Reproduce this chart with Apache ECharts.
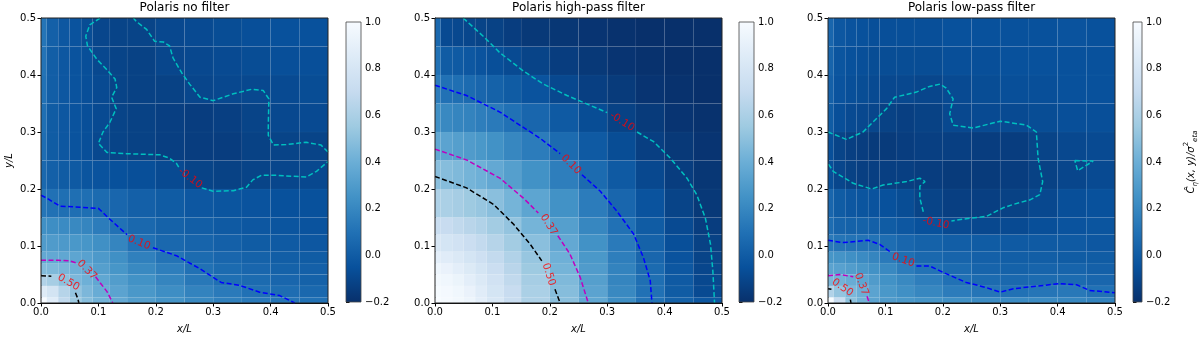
<!DOCTYPE html>
<html>
<head>
<meta charset="utf-8">
<title>Polaris correlation maps</title>
<script src="https://cdn.jsdelivr.net/npm/echarts@6/dist/echarts.min.js"></script>
<style>
  html, body { margin: 0; padding: 0; background: #fff; }
  #main { width: 1200px; height: 339px; }
</style>
</head>
<body>
<div id="main"></div>
<script>
// cell edges in x/L and y/L (same on both axes), finer near the origin
var edges = [0, 0.01, 0.03, 0.05, 0.07, 0.09, 0.12, 0.15, 0.2, 0.25, 0.3, 0.35, 0.4, 0.45, 0.5];
var axisTicks = [0, 0.1, 0.2, 0.3, 0.4, 0.5];
var barTicks = [-0.2, 0, 0.2, 0.4, 0.6, 0.8, 1.0];
var titles = ['Polaris no filter', 'Polaris high-pass filter', 'Polaris low-pass filter'];

// rows go from y/L = 0 (first) to y/L = 0.5 (last)
var noFilter = [
  [1.0, 0.86, 0.68, 0.55, 0.48, 0.42, 0.37, 0.31, 0.26, 0.21, 0.17, 0.14, 0.12, 0.1],
  [0.85, 0.78, 0.64, 0.52, 0.45, 0.39, 0.34, 0.28, 0.23, 0.18, 0.14, 0.1, 0.08, 0.06],
  [0.62, 0.58, 0.5, 0.45, 0.41, 0.36, 0.31, 0.25, 0.19, 0.13, 0.09, 0.07, 0.05, 0.03],
  [0.47, 0.46, 0.44, 0.41, 0.37, 0.32, 0.27, 0.21, 0.16, 0.1, 0.07, 0.05, 0.03, 0.02],
  [0.37, 0.37, 0.36, 0.35, 0.33, 0.29, 0.24, 0.17, 0.11, 0.07, 0.05, 0.03, 0.01, 0.0],
  [0.3, 0.3, 0.29, 0.28, 0.27, 0.24, 0.19, 0.1, 0.06, 0.04, 0.02, 0.0, -0.01, -0.02],
  [0.24, 0.23, 0.22, 0.21, 0.19, 0.15, 0.1, 0.06, 0.03, 0.01, -0.01, -0.02, -0.03, -0.04],
  [0.12, 0.1, 0.09, 0.09, 0.09, 0.07, 0.05, 0.02, 0.0, -0.02, -0.03, -0.04, -0.05, -0.05],
  [0.06, 0.02, 0.0, -0.01, -0.03, -0.04, -0.05, -0.06, -0.08, -0.11, -0.12, -0.11, -0.1, -0.09],
  [0.08, 0.0, -0.02, -0.04, -0.06, -0.09, -0.11, -0.12, -0.13, -0.14, -0.14, -0.12, -0.11, -0.11],
  [0.09, 0.0, -0.02, -0.04, -0.06, -0.08, -0.11, -0.12, -0.13, -0.14, -0.13, -0.11, -0.09, -0.08],
  [0.1, 0.01, -0.02, -0.04, -0.06, -0.08, -0.11, -0.12, -0.12, -0.1, -0.09, -0.09, -0.08, -0.07],
  [0.11, 0.01, -0.02, -0.04, -0.06, -0.09, -0.11, -0.12, -0.1, -0.09, -0.08, -0.07, -0.06, -0.06],
  [0.12, 0.02, -0.02, -0.04, -0.07, -0.1, -0.11, -0.11, -0.09, -0.08, -0.07, -0.06, -0.05, -0.05]
];
var highPass = [
  [1.0, 0.99, 0.97, 0.94, 0.88, 0.81, 0.72, 0.61, 0.49, 0.36, 0.23, 0.11, 0.03, -0.02],
  [0.99, 0.98, 0.96, 0.92, 0.86, 0.79, 0.71, 0.6, 0.48, 0.34, 0.21, 0.1, 0.0, -0.08],
  [0.97, 0.96, 0.93, 0.88, 0.83, 0.77, 0.68, 0.58, 0.46, 0.32, 0.19, 0.09, -0.01, -0.09],
  [0.94, 0.92, 0.88, 0.84, 0.79, 0.73, 0.65, 0.55, 0.43, 0.3, 0.18, 0.07, -0.02, -0.1],
  [0.88, 0.86, 0.83, 0.79, 0.75, 0.69, 0.62, 0.53, 0.41, 0.28, 0.16, 0.05, -0.04, -0.11],
  [0.81, 0.79, 0.77, 0.73, 0.69, 0.64, 0.57, 0.49, 0.37, 0.25, 0.14, 0.03, -0.06, -0.12],
  [0.72, 0.71, 0.68, 0.65, 0.62, 0.57, 0.52, 0.43, 0.32, 0.2, 0.1, 0.0, -0.08, -0.14],
  [0.61, 0.6, 0.58, 0.55, 0.53, 0.49, 0.43, 0.35, 0.25, 0.15, 0.05, -0.04, -0.11, -0.16],
  [0.49, 0.48, 0.46, 0.43, 0.41, 0.37, 0.32, 0.25, 0.16, 0.07, -0.01, -0.09, -0.14, -0.17],
  [0.36, 0.34, 0.32, 0.3, 0.28, 0.25, 0.2, 0.15, 0.07, -0.01, -0.07, -0.13, -0.16, -0.18],
  [0.24, 0.21, 0.19, 0.18, 0.16, 0.14, 0.1, 0.05, -0.01, -0.07, -0.12, -0.15, -0.18, -0.19],
  [0.15, 0.1, 0.09, 0.07, 0.05, 0.03, 0.0, -0.04, -0.09, -0.13, -0.15, -0.18, -0.19, -0.2],
  [0.1, 0.0, -0.01, -0.02, -0.04, -0.06, -0.08, -0.11, -0.14, -0.16, -0.18, -0.19, -0.2, -0.2],
  [0.06, -0.08, -0.09, -0.1, -0.11, -0.12, -0.14, -0.16, -0.17, -0.18, -0.19, -0.2, -0.2, -0.2]
];
var lowPass = [
  [1.0, 0.72, 0.5, 0.42, 0.34, 0.3, 0.28, 0.26, 0.24, 0.22, 0.22, 0.22, 0.2, 0.18],
  [0.62, 0.52, 0.45, 0.4, 0.34, 0.28, 0.24, 0.2, 0.15, 0.12, 0.1, 0.12, 0.13, 0.1],
  [0.44, 0.42, 0.39, 0.35, 0.3, 0.25, 0.21, 0.16, 0.1, 0.07, 0.06, 0.07, 0.07, 0.05],
  [0.34, 0.33, 0.31, 0.28, 0.25, 0.21, 0.15, 0.11, 0.07, 0.04, 0.03, 0.04, 0.04, 0.02],
  [0.27, 0.26, 0.24, 0.22, 0.19, 0.14, 0.09, 0.06, 0.04, 0.02, 0.01, 0.01, 0.0, 0.0],
  [0.14, 0.12, 0.11, 0.11, 0.11, 0.08, 0.05, 0.03, 0.01, 0.0, -0.01, -0.01, -0.01, -0.02],
  [0.08, 0.04, 0.03, 0.03, 0.02, 0.0, -0.02, -0.05, -0.08, -0.09, -0.08, -0.06, -0.04, -0.03],
  [0.05, 0.0, -0.02, -0.03, -0.04, -0.05, -0.07, -0.11, -0.13, -0.13, -0.12, -0.09, -0.06, -0.05],
  [-0.06, -0.1, -0.12, -0.13, -0.13, -0.13, -0.13, -0.14, -0.15, -0.15, -0.14, -0.12, -0.1, -0.08],
  [-0.06, -0.11, -0.13, -0.14, -0.15, -0.15, -0.14, -0.13, -0.13, -0.14, -0.14, -0.11, -0.09, -0.08],
  [0.0, -0.06, -0.08, -0.09, -0.1, -0.12, -0.13, -0.12, -0.09, -0.08, -0.08, -0.07, -0.06, -0.06],
  [0.02, -0.04, -0.06, -0.07, -0.08, -0.09, -0.09, -0.1, -0.08, -0.07, -0.06, -0.06, -0.05, -0.05],
  [0.04, -0.03, -0.05, -0.06, -0.07, -0.07, -0.07, -0.07, -0.06, -0.06, -0.05, -0.05, -0.05, -0.05],
  [0.05, -0.02, -0.04, -0.05, -0.06, -0.06, -0.06, -0.06, -0.05, -0.05, -0.05, -0.05, -0.04, -0.05]
];

// contour paths (x/L, y/L), split where the inline labels sit
var noFilterLines = {
  '0.50': [[[0, 0.048], [0.018, 0.047]], [[0.06, 0.018], [0.064, 0.008], [0.066, 0]]],
  '0.37': [[[0, 0.075], [0.03, 0.075], [0.05, 0.074], [0.062, 0.07]], [[0.095, 0.046], [0.105, 0.033], [0.115, 0.02], [0.125, 0]]],
  '0.10': [[[0, 0.189], [0.01, 0.184], [0.033, 0.17], [0.068, 0.168], [0.1, 0.166], [0.12, 0.147], [0.143, 0.126], [0.15, 0.12]],
           [[0.195, 0.097], [0.236, 0.083], [0.277, 0.06], [0.3, 0.045], [0.314, 0.036], [0.346, 0.031], [0.381, 0.019], [0.416, 0.013], [0.442, 0]]],
  '-0.10': [[[0.28, 0.202], [0.3, 0.196], [0.335, 0.197], [0.358, 0.203], [0.369, 0.216], [0.384, 0.224], [0.41, 0.224], [0.462, 0.221], [0.48, 0.231], [0.5, 0.248]],
            [[0.5, 0.265], [0.488, 0.277], [0.462, 0.282], [0.427, 0.278], [0.405, 0.277], [0.396, 0.294], [0.396, 0.312], [0.397, 0.358], [0.387, 0.373], [0.367, 0.375], [0.335, 0.367], [0.3, 0.355], [0.277, 0.361], [0.259, 0.384], [0.245, 0.404], [0.23, 0.43], [0.224, 0.451], [0.213, 0.458], [0.198, 0.459], [0.184, 0.48], [0.166, 0.494], [0.161, 0.5]],
            [[0.103, 0.5], [0.085, 0.488], [0.078, 0.468], [0.081, 0.451], [0.097, 0.428], [0.114, 0.41], [0.129, 0.393], [0.132, 0.378], [0.123, 0.361], [0.131, 0.341], [0.12, 0.317], [0.108, 0.3], [0.1, 0.28], [0.115, 0.264], [0.149, 0.262], [0.207, 0.26], [0.224, 0.254], [0.236, 0.245], [0.24, 0.238]]]
};
var highPassLines = {
  '-0.10': [[[0.049, 0.5], [0.084, 0.468], [0.113, 0.439], [0.154, 0.407], [0.189, 0.384], [0.23, 0.364], [0.265, 0.349], [0.3, 0.334]],
            [[0.352, 0.3], [0.381, 0.283], [0.41, 0.254], [0.439, 0.219], [0.456, 0.19], [0.471, 0.149], [0.48, 0.103], [0.484, 0.057], [0.487, 0]]],
  '0.10': [[[0, 0.382], [0.055, 0.364], [0.113, 0.335], [0.183, 0.289], [0.218, 0.262]],
           [[0.256, 0.225], [0.288, 0.196], [0.317, 0.161], [0.346, 0.121], [0.363, 0.08], [0.375, 0.039], [0.378, 0]]],
  '0.37': [[[0, 0.27], [0.055, 0.251], [0.113, 0.219], [0.154, 0.184], [0.18, 0.158]], [[0.214, 0.118], [0.235, 0.086], [0.253, 0.045], [0.267, 0]]],
  '0.50': [[[0, 0.222], [0.055, 0.202], [0.102, 0.173], [0.137, 0.138], [0.166, 0.103], [0.186, 0.074]], [[0.209, 0.024], [0.218, 0]]]
};
var lowPassLines = {
  '-0.10': [[[0, 0.3], [0.032, 0.287], [0.061, 0.3], [0.102, 0.341], [0.116, 0.361], [0.154, 0.37], [0.177, 0.38], [0.195, 0.384], [0.206, 0.377], [0.218, 0.358], [0.212, 0.332], [0.218, 0.312], [0.253, 0.307], [0.3, 0.319], [0.346, 0.312], [0.363, 0.3], [0.366, 0.254], [0.374, 0.213], [0.369, 0.19], [0.352, 0.181], [0.323, 0.173], [0.305, 0.167], [0.276, 0.152], [0.241, 0.148], [0.215, 0.144]],
            [[0.166, 0.16], [0.16, 0.184], [0.16, 0.205], [0.169, 0.213], [0.16, 0.219], [0.137, 0.213], [0.096, 0.207], [0.076, 0.2], [0.044, 0.21], [0.009, 0.231], [0, 0.245]],
            [[0.43, 0.25], [0.462, 0.249], [0.435, 0.232], [0.43, 0.25]]],
  '0.10': [[[0, 0.11], [0.026, 0.106], [0.07, 0.11], [0.09, 0.103], [0.108, 0.09]],
           [[0.154, 0.065], [0.177, 0.065], [0.2, 0.054], [0.241, 0.036], [0.276, 0.027], [0.3, 0.019], [0.323, 0.025], [0.358, 0.029], [0.404, 0.034], [0.433, 0.032], [0.456, 0.022], [0.5, 0.018]]],
  '0.37': [[[0, 0.048], [0.02, 0.05], [0.044, 0.046]], [[0.068, 0.012], [0.072, 0]]],
  '0.50': [[[0, 0.025], [0.006, 0.024]], [[0.039, 0.006], [0.04, 0]]]
};

// inline contour labels: text, x/L, y/L
var noFilterLabels = [['0.50', 0.048, 0.036], ['0.37', 0.08, 0.058], ['0.10', 0.171, 0.106], ['-0.10', 0.26, 0.219]];
var highPassLabels = [['-0.10', 0.326, 0.318], ['0.10', 0.237, 0.243], ['0.37', 0.198, 0.137], ['0.50', 0.198, 0.05]];
var lowPassLabels = [['0.50', 0.025, 0.027], ['0.37', 0.058, 0.033], ['0.10', 0.131, 0.075], ['-0.10', 0.188, 0.14]];
var noFilterAngles = [-30, -45, -22, -38];
var highPassAngles = [-32, -45, -58, -72];
var lowPassAngles = [-35, -70, -20, -12];

var FONT = 'DejaVu Sans';
var cmap = ['#08306b', '#08519c', '#2171b5', '#4292c6', '#6baed6', '#9ecae1', '#c6dbef', '#deebf7', '#f7fbff'];
var levelColor = { '-0.10': '#00bfbf', '0.10': '#0000ff', '0.37': '#bf00bf', '0.50': '#000000' };

var panels = [
  { rows: noFilter, lines: noFilterLines, labels: noFilterLabels, angles: noFilterAngles, left: 41, bar: 346 },
  { rows: highPass, lines: highPassLines, labels: highPassLabels, angles: highPassAngles, left: 435, bar: 739 },
  { rows: lowPass, lines: lowPassLines, labels: lowPassLabels, angles: lowPassAngles, left: 828, bar: 1133 }
];

function cells(rows) {
  var out = [];
  rows.forEach(function (row, j) {
    row.forEach(function (v, i) {
      out.push([edges[i], edges[i + 1], edges[j], edges[j + 1], v]);
    });
  });
  return out;
}

function renderCell(params, api) {
  var a = api.coord([api.value(0), api.value(2)]);
  var b = api.coord([api.value(1), api.value(3)]);
  return {
    type: 'rect',
    shape: { x: a[0], y: b[1], width: b[0] - a[0], height: a[1] - b[1] },
    style: { fill: api.visual('color'), stroke: 'rgba(255,255,255,0.05)', lineWidth: 0.6 }
  };
}

function renderBar(params, api) {
  var a = api.coord([api.value(0), api.value(2)]);
  var b = api.coord([api.value(1), api.value(3)]);
  var stops = cmap.map(function (c, i) { return { offset: i / (cmap.length - 1), color: c }; });
  return {
    type: 'rect',
    shape: { x: a[0], y: b[1], width: b[0] - a[0], height: a[1] - b[1] },
    style: { fill: new echarts.graphic.LinearGradient(0, 1, 0, 0, stops), stroke: '#444', lineWidth: 0.8 }
  };
}

function tickFmt(v) {
  var s = Math.abs(v).toFixed(1);
  return v < -1e-9 ? '\u2212' + s : s;
}

var labelStyle = { color: '#000', fontSize: 10, fontFamily: FONT };
var grids = [], xAxes = [], yAxes = [], series = [], titleOpts = [], heatIdx = [];

panels.forEach(function (p, k) {
  var gi = grids.length;
  grids.push({ left: p.left, top: 18, width: 287, height: 288, show: true, borderColor: '#222', borderWidth: 1,
               backgroundColor: 'rgba(0,0,0,0)', z: 10 });
  grids.push({ left: p.bar, top: 22, width: 15, height: 280 });

  titleOpts.push({ text: titles[k], left: p.left + 143.5, top: 2, padding: 0, textAlign: 'center',
                   textStyle: { fontSize: 12, fontWeight: 'normal', color: '#000', fontFamily: FONT } });

  xAxes.push({
    gridIndex: gi, type: 'value', min: axisTicks[0], max: axisTicks[axisTicks.length - 1], interval: 0.1,
    name: 'x/L', nameLocation: 'middle', nameGap: 21,
    nameTextStyle: { fontSize: 10, fontStyle: 'italic', color: '#000', fontFamily: FONT },
    axisLine: { lineStyle: { color: '#000', width: 1 } },
    axisTick: { length: 3.5, lineStyle: { color: '#000' } },
    axisLabel: Object.assign({ margin: 4, formatter: tickFmt }, labelStyle),
    splitLine: { show: false }
  });
  xAxes.push({ gridIndex: gi + 1, type: 'value', min: 0, max: 1, show: false });

  yAxes.push({
    gridIndex: gi, type: 'value', min: axisTicks[0], max: axisTicks[axisTicks.length - 1], interval: 0.1,
    name: k === 0 ? 'y/L' : '', nameLocation: 'middle', nameGap: 27, nameRotate: 90,
    nameTextStyle: { fontSize: 10, fontStyle: 'italic', color: '#000', fontFamily: FONT },
    axisLine: { lineStyle: { color: '#000', width: 1 } },
    axisTick: { length: 3.5, lineStyle: { color: '#000' } },
    axisLabel: Object.assign({ margin: 5, formatter: tickFmt }, labelStyle),
    splitLine: { show: false }
  });
  var barAxis = {
    gridIndex: gi + 1, type: 'value', position: 'right', min: barTicks[0], max: barTicks[barTicks.length - 1], interval: 0.2,
    axisLine: { show: false },
    axisTick: { length: 3.5, lineStyle: { color: '#000' } },
    axisLabel: Object.assign({ margin: 4, formatter: tickFmt }, labelStyle),
    splitLine: { show: false }
  };
  if (k === 2) {
    barAxis.name = '{a|\u0108}{s|\u03b7}{a|(x, y)/\u03c3}{p|2}{s|eta}';
    barAxis.nameLocation = 'middle';
    barAxis.nameRotate = 90;
    barAxis.nameGap = 41;
    barAxis.nameTextStyle = {
      color: '#000', fontFamily: FONT,
      rich: {
        a: { fontSize: 10, fontStyle: 'italic', fontFamily: FONT, color: '#000', lineHeight: 16, verticalAlign: 'middle' },
        s: { fontSize: 7, fontStyle: 'italic', fontFamily: FONT, color: '#000', lineHeight: 16, verticalAlign: 'bottom' },
        p: { fontSize: 7, fontFamily: FONT, color: '#000', lineHeight: 16, verticalAlign: 'top' }
      }
    };
  }
  yAxes.push(barAxis);

  heatIdx.push(series.length);
  series.push({
    type: 'custom', xAxisIndex: gi, yAxisIndex: gi, renderItem: renderCell,
    encode: { x: [0, 1], y: [2, 3] }, data: cells(p.rows), silent: true, z: 1
  });
  series.push({
    type: 'custom', xAxisIndex: gi + 1, yAxisIndex: gi + 1, renderItem: renderBar,
    encode: { x: [0, 1], y: [2, 3] }, data: [[0, 1, barTicks[0], barTicks[barTicks.length - 1]]], silent: true
  });

  Object.keys(p.lines).forEach(function (level) {
    p.lines[level].forEach(function (seg) {
      series.push({
        type: 'line', xAxisIndex: gi, yAxisIndex: gi, data: seg, symbol: 'none', silent: true, z: 3,
        lineStyle: { color: levelColor[level], width: 1.5, type: [5, 2.5] }
      });
    });
  });

  series.push({
    type: 'scatter', xAxisIndex: gi, yAxisIndex: gi, symbolSize: 0, silent: true, z: 4,
    label: { show: true, position: 'inside', color: '#ff0000', fontSize: 10.5, fontFamily: FONT },
    data: p.labels.map(function (l, i) {
      return { value: [l[1], l[2]], label: { formatter: l[0], rotate: p.angles[i] } };
    })
  });
});

var myChart = echarts.init(document.getElementById('main'), null, { renderer: 'canvas' });
myChart.setOption({
  animation: false,
  backgroundColor: '#fff',
  textStyle: { fontFamily: FONT },
  title: titleOpts,
  grid: grids,
  xAxis: xAxes,
  yAxis: yAxes,
  visualMap: {
    type: 'continuous', show: false, min: barTicks[0], max: barTicks[barTicks.length - 1],
    dimension: 4, seriesIndex: heatIdx, inRange: { color: cmap }
  },
  series: series
});
</script>
</body>
</html>
